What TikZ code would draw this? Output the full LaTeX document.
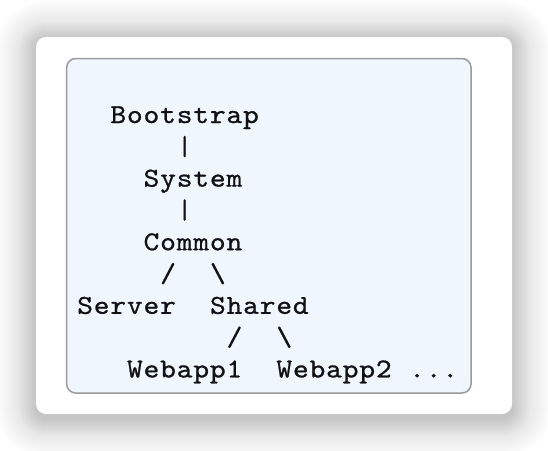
\documentclass[tikz,border=0pt]{standalone}
\usepackage{fontspec}
\newfontfamily\codefont{lmmono10-regular.otf}[FakeStretch=1.1, FakeBold=0.8, LetterSpace=3]
\usetikzlibrary{positioning}

\begin{document}
\begin{tikzpicture}[x=1pt, y=-1pt,
    code/.style={font=\codefont\fontsize{27.3}{32}\selectfont, text=ink, inner sep=0pt, anchor=base west}]
  \definecolor{ink}{HTML}{111111}
  \definecolor{frame}{HTML}{9B9B9B}
  \definecolor{paper}{HTML}{EFF6FE}
  \def\cw{16.6}
  \useasboundingbox (0,0) rectangle (548,450);
  \fill[white] (0,0) rectangle (548,450);
  \foreach \i in {1,...,40}
    \fill[black, opacity=0.002, rounded corners=10+\i] (36-\i,40-\i) rectangle (512+\i,418+\i);
  \foreach \i in {1,...,18}
    \fill[black, opacity=0.005, rounded corners=10+\i] (36-\i,40-\i) rectangle (512+\i,418+\i);
  \fill[white, rounded corners=10] (36,37) rectangle (512,414);
  \draw[frame, fill=paper, line width=1.5, rounded corners=9] (66.7,58.5) rectangle (471,393);

  \node[code] (boot) at (77+2*\cw,123) {Bootstrap};
  \node[code] (barA) at (77+6*\cw,154.9) {|};
  \node[code] (sys) at (77+4*\cw,186.6) {System};
  \node[code] (barB) at (77+6*\cw,218.4) {|};
  \node[code] (common) at (77+4*\cw,250.2) {Common};
  \node[code] (lcommon) at (77+5*\cw,282) {/};
  \node[code] (rcommon) at (77+8*\cw,282) {\textbackslash};
  \node[code] (server) at (77,313.8) {Server};
  \node[code] (shared) at (77+8*\cw,313.8) {Shared};
  \node[code] (lshared) at (77+9*\cw,345.6) {/};
  \node[code] (rshared) at (77+12*\cw,345.6) {\textbackslash};
  \node[code] (web1) at (77+3*\cw,377.4) {Webapp1};
  \node[code] (web2) at (77+12*\cw,377.4) {Webapp2};
  \node[code] (more) at (77+20*\cw,377.4) {...};
\end{tikzpicture}
\end{document}
